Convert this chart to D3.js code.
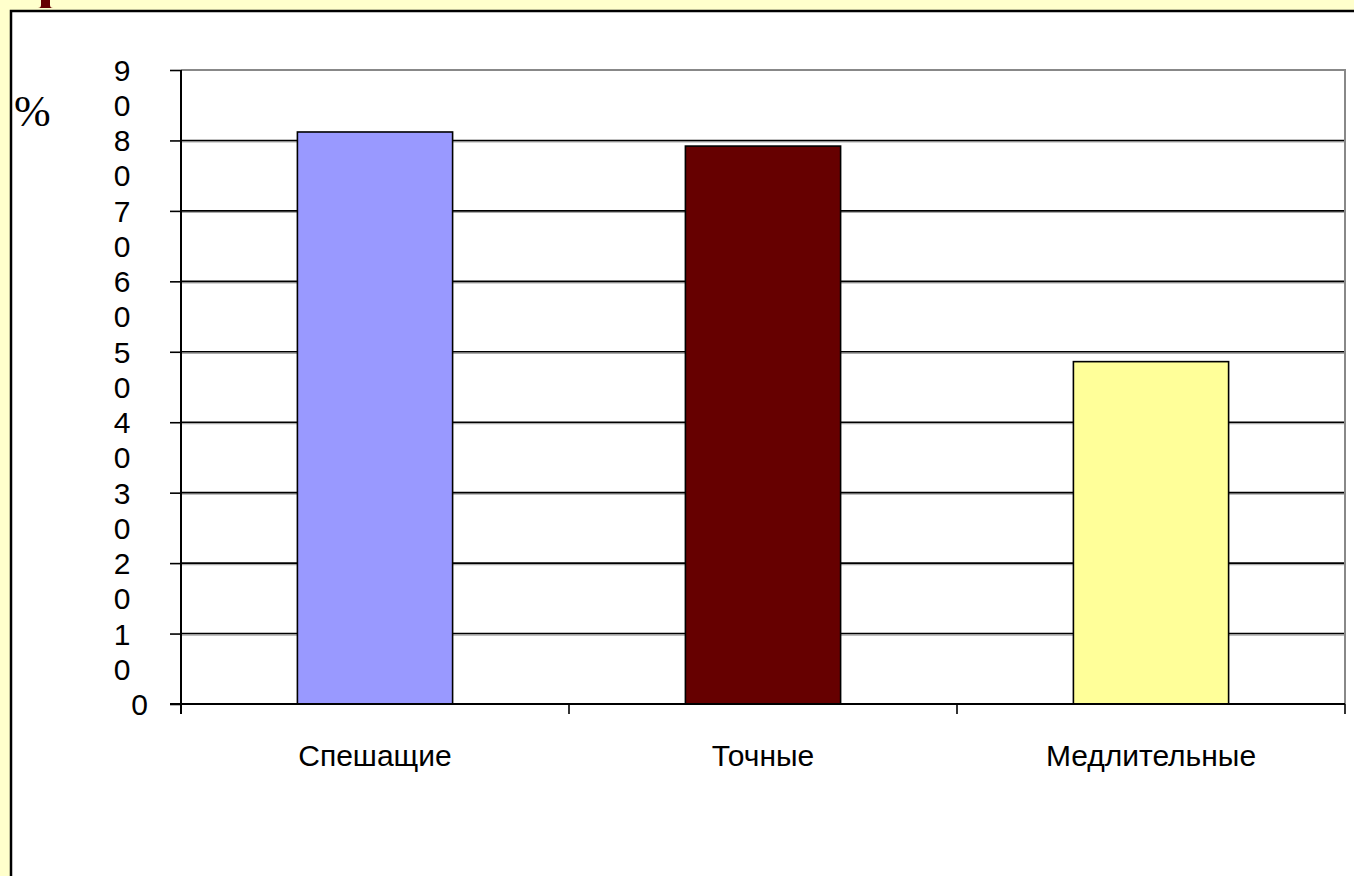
<!DOCTYPE html>
<html>
<head>
<meta charset="utf-8">
<script src="https://cdn.jsdelivr.net/npm/d3@7"></script>
<style>
  html, body { margin: 0; padding: 0; background: #ffffcc; overflow: hidden; }
  svg { display: block; }
</style>
</head>
<body>
<svg width="1354" height="876"></svg>
<script>
// chart data
const categories = ["Спешащие", "Точные", "Медлительные"];
const values = [81.2, 79.2, 48.6];
const barColors = ["#9999ff", "#660000", "#ffff99"];
const tickValues = [0, 10, 20, 30, 40, 50, 60, 70, 80, 90];
const tickLabels = ["0", "10", "20", "30", "40", "50", "60", "70", "80", "90"];

const plot = { left: 181, right: 1345, top: 70, bottom: 704 };

var svg = d3.select("svg");

// yellow slide background + white panel with black border
svg.append("rect")
  .attr("x", 0).attr("y", 0)
  .attr("width", 1354).attr("height", 876)
  .attr("fill", "#ffffcc");

svg.append("rect")
  .attr("x", 11).attr("y", 11)
  .attr("width", 1400).attr("height", 900)
  .attr("fill", "#fff")
  .attr("stroke", "#000")
  .attr("stroke-width", 2.5);

// bottom of a slide-title glyph peeking above the panel
svg.append("path")
  .attr("d", "M41,0 H50 V5 Q50,8 53,8 H38 Q41,8 41,5 Z")
  .attr("fill", "#660000");

var x = d3.scaleBand()
  .domain(categories)
  .range([plot.left, plot.right])
  .paddingInner(0)
  .paddingOuter(0);

var y = d3.scaleLinear()
  .domain([0, 90])
  .range([plot.bottom, plot.top]);

const barW = x.bandwidth() * 0.4;

// gridlines (black with grey shadow)
var grid = svg.append("g");
tickValues.filter(d => d > 0 && d < 90).forEach(d => {
  grid.append("line")
    .attr("x1", plot.left).attr("x2", plot.right)
    .attr("y1", y(d) + 1.5).attr("y2", y(d) + 1.5)
    .attr("stroke", "#aaa").attr("stroke-width", 1.2);
  grid.append("line")
    .attr("x1", plot.left).attr("x2", plot.right)
    .attr("y1", y(d)).attr("y2", y(d))
    .attr("stroke", "#000").attr("stroke-width", 1.6);
});

// plot area top and right borders (grey)
svg.append("path")
  .attr("d", "M" + plot.left + "," + plot.top + "H" + plot.right + "V" + plot.bottom)
  .attr("fill", "none")
  .attr("stroke", "#888")
  .attr("stroke-width", 2);

// bars
svg.append("g").selectAll("rect")
  .data(values)
  .enter().append("rect")
  .attr("x", (d, i) => x(categories[i]) + (x.bandwidth() - barW) / 2)
  .attr("y", d => y(d))
  .attr("width", barW)
  .attr("height", d => y(0) - y(d))
  .attr("fill", (d, i) => barColors[i])
  .attr("stroke", "#000")
  .attr("stroke-width", 1.6);

// y axis
var yAxis = svg.append("g")
  .attr("transform", "translate(" + plot.left + ",0)")
  .call(d3.axisLeft(y).tickValues(tickValues).tickSize(11).tickFormat(""));
yAxis.select(".domain").attr("stroke", "#000").attr("stroke-width", 2)
  .attr("d", "M0," + plot.top + "V" + (plot.bottom + 10));
yAxis.selectAll(".tick line").attr("stroke", "#000").attr("stroke-width", 1.6);

// y labels, wrapped one digit per line like the original
var labels = svg.append("g")
  .attr("font-family", "Liberation Sans, Arial, sans-serif")
  .style("font-size", "30px")
  .attr("fill", "#000");

tickValues.forEach((d, i) => {
  var s = tickLabels[i];
  if (s.length == 1) {
    labels.append("text")
      .attr("x", 148)
      .attr("y", y(d) + 11)
      .attr("text-anchor", "end")
      .text(s);
  } else {
    var t = labels.append("text")
      .attr("text-anchor", "middle");
    s.split("").forEach((c, k) => {
      t.append("tspan")
        .attr("x", 122)
        .attr("y", y(d) + 11 + k * 35)
        .text(c);
    });
  }
});

// x axis
var xAxis = svg.append("g")
  .attr("transform", "translate(0," + plot.bottom + ")");
xAxis.append("line")
  .attr("x1", plot.left - 11).attr("x2", plot.right)
  .attr("y1", 0).attr("y2", 0)
  .attr("stroke", "#000").attr("stroke-width", 2);
var edges = categories.map(c => x(c)).concat([plot.right]);
xAxis.selectAll(".xt")
  .data(edges)
  .enter().append("line")
  .attr("class", "xt")
  .attr("x1", d => d).attr("x2", d => d)
  .attr("y1", 0).attr("y2", 10)
  .attr("stroke", "#000").attr("stroke-width", 1.6);

svg.append("g")
  .attr("font-family", "Liberation Sans, Arial, sans-serif")
  .style("font-size", "30px")
  .attr("fill", "#000")
  .selectAll("text")
  .data(categories)
  .enter().append("text")
  .attr("x", d => x(d) + x.bandwidth() / 2)
  .attr("y", 766)
  .attr("text-anchor", "middle")
  .text(d => d);

// unit label
svg.append("text")
  .attr("x", 14)
  .attr("y", 126)
  .attr("font-family", "Liberation Serif, Times New Roman, serif")
  .style("font-size", "44px")
  .attr("fill", "#000")
  .text("%");
</script>
</body>
</html>
